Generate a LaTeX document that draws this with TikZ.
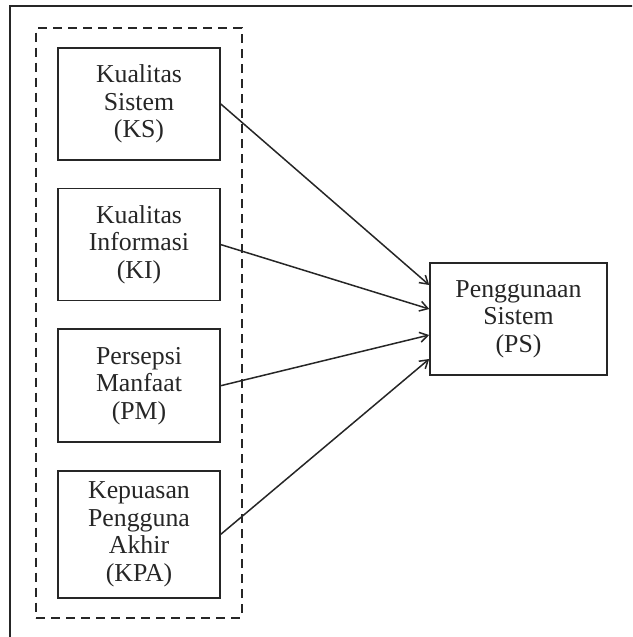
\documentclass[tikz,border=0pt]{standalone}
\usepackage{fontspec}
\setmainfont{Liberation Serif}
\usetikzlibrary{positioning,calc,fit,arrows.meta}

\begin{document}
\begin{tikzpicture}[x=1pt, y=-1pt, ->, >={Straight Barb[length=8pt,width=10pt]}, node distance=27pt,
    every node/.style={text=black!85},
    var/.style={draw=black!85, line width=1.6pt, minimum width=162pt, minimum height=112pt,
                align=center, inner sep=0pt, font=\fontsize{25.8}{27.5}\selectfont},
    grp/.style={draw=black!85, dashed, dash pattern=on 9pt off 6pt, line width=2pt, inner sep=0pt}]

      \useasboundingbox (0,0) rectangle (632,637);
      \clip (0,0) rectangle (632,637);
      \draw[-, line width=2pt, black!85] (10,6) rectangle (660,660);

      % Nodes
      \node[var] (ks) at (139,104) {Kualitas\\Sistem\\(KS)};
      \node[var] (ki) [below=of ks] {Kualitas\\Informasi\\(KI)};
      \node[var, minimum height=113pt] (pm) [below=of ki] {Persepsi\\Manfaat\\(PM)};
      \node[var, minimum height=127pt] (kpa) [below=of pm] {Kepuasan\\Pengguna\\Akhir\\(KPA)};
      \node[var, minimum width=177pt] (ps) at (518.5,319) {Penggunaan\\Sistem\\(PS)};

      \node[grp, fit=(ks)(kpa), inner xsep=21pt, inner ysep=19pt] (grup) {};

      % Directed Edges
      \draw[line width=1.5pt, black!85] (ks.east) -> ($(ps.west)+(0,-34)$);
      \draw[line width=1.5pt, black!85] (ki.east) -> ($(ps.west)+(0,-10)$);
      \draw[line width=1.5pt, black!85] (pm.east) -> ($(ps.west)+(0,16)$);
      \draw[line width=1.5pt, black!85] (kpa.east) -> ($(ps.west)+(0,40)$);

\end{tikzpicture}
\end{document}
